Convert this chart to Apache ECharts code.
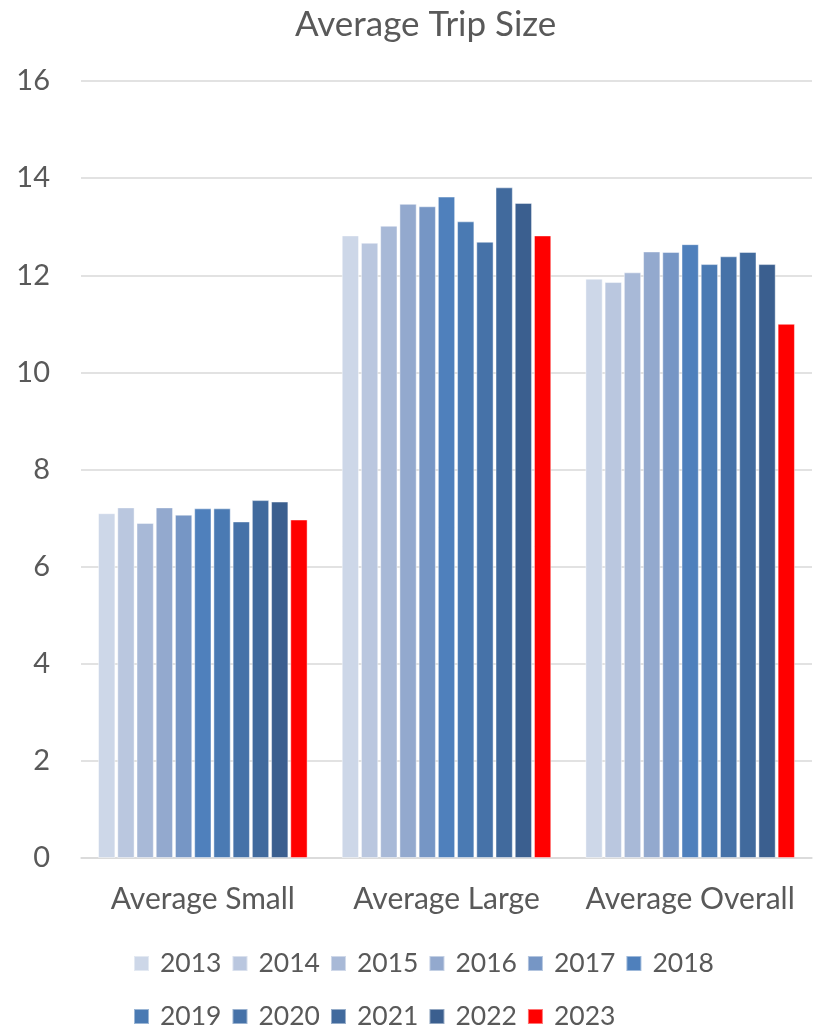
<!DOCTYPE html>
<html><head><meta charset="utf-8">
<script src="https://cdn.jsdelivr.net/npm/echarts@6/dist/echarts.min.js"></script>
<style>html,body{margin:0;padding:0;background:#fff}#c{width:817px;height:1032px}</style>
</head><body><div id="c"></div>
<script>
const categories = ['Average Small', 'Average Large', 'Average Overall'];
const years = ['2013','2014','2015','2016','2017','2018','2019','2020','2021','2022','2023'];
const v2013 = [7.10, 12.82, 11.93];
const v2014 = [7.22, 12.67, 11.86];
const v2015 = [6.90, 13.02, 12.06];
const v2016 = [7.22, 13.47, 12.49];
const v2017 = [7.07, 13.42, 12.48];
const v2018 = [7.20, 13.62, 12.64];
const v2019 = [7.20, 13.11, 12.23];
const v2020 = [6.93, 12.69, 12.39];
const v2021 = [7.37, 13.81, 12.48];
const v2022 = [7.34, 13.49, 12.23];
const v2023 = [6.97, 12.82, 11.00];
const yearValues = [v2013, v2014, v2015, v2016, v2017, v2018, v2019, v2020, v2021, v2022, v2023];
const colors = ['#cdd7e8','#bac7df','#a8b9d7','#93a9ce','#7696c5','#4f80bc','#4a7ab3','#4672a8','#416a9d','#3b5f8f','#ff0000'];
const yTicks = {min: 0, max: 16, interval: 2};

const font = 'Lato, "Open Sans", sans-serif';
const txt = '#595959';
const chart = echarts.init(document.getElementById('c'), null, {renderer: 'canvas'});
chart.setOption({
  animation: false,
  color: colors,
  title: {
    text: 'Average Trip Size', left: 290, top: 2,
    textStyle: {fontFamily: font, fontSize: 35, fontWeight: 'normal', color: txt}
  },
  grid: {left: 81, right: 5, top: 81, bottom: 174, containLabel: false},
  legend: {
    left: 128, top: 937, width: 600,
    itemWidth: 15, itemHeight: 15, itemGap: 10,
    icon: 'rect',
    textStyle: {fontFamily: font, fontSize: 26.5, color: txt, padding: [0,0,0,6], lineHeight: 43}
  },
  xAxis: {
    type: 'category', data: categories,
    axisLine: {lineStyle: {color: '#d9d9d9', width: 1.5}},
    axisTick: {show: false},
    axisLabel: {fontFamily: font, fontSize: 30, color: txt, margin: 26, interval: 0}
  },
  yAxis: {
    type: 'value', min: yTicks.min, max: yTicks.max, interval: yTicks.interval,
    axisLine: {show: false}, axisTick: {show: false},
    splitLine: {lineStyle: {color: '#d9d9d9', width: 1.5}},
    axisLabel: {fontFamily: font, fontSize: 29, color: txt, margin: 31}
  },
  series: years.map((y, i) => ({
    name: y, type: 'bar', data: yearValues[i],
    barGap: '11%', barCategoryGap: '14%',
    itemStyle: {color: colors[i], borderColor: 'rgba(255,255,255,0.45)', borderWidth: 1}
  }))
});
</script></body></html>
